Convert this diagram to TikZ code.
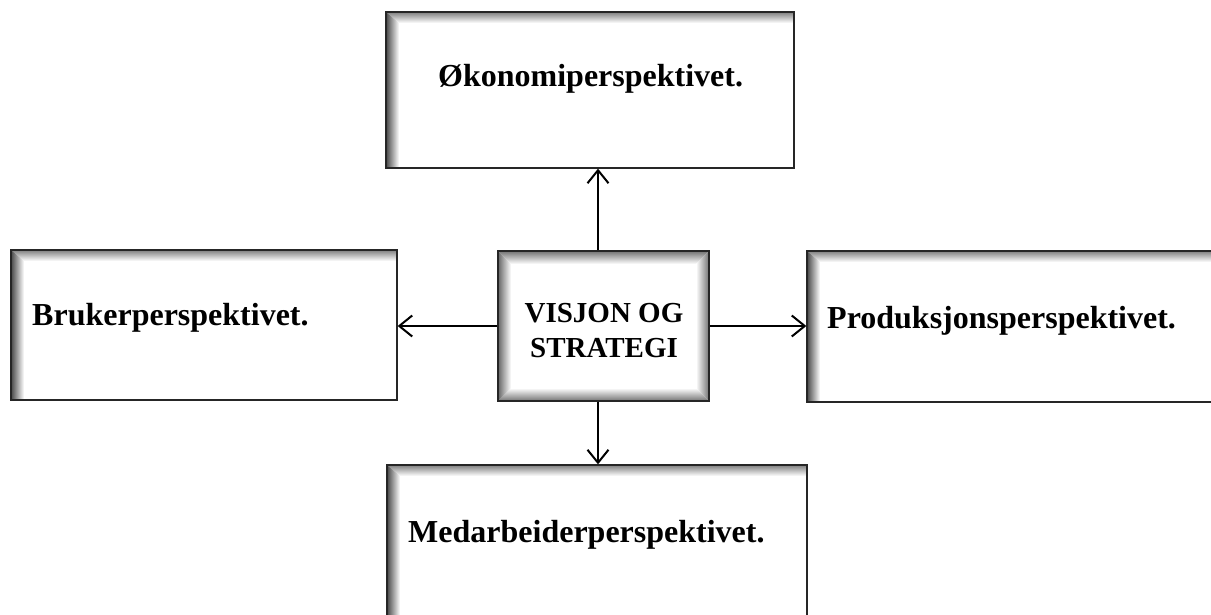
\documentclass[tikz,border=0pt]{standalone}
\usepackage{fontspec}
\setmainfont{Liberation Serif}
\usetikzlibrary{arrows.meta}
\begin{document}
\begin{tikzpicture}[x=1pt,y=-1pt,
  box/.style={draw=black!85, line width=1.3pt, rectangle, inner sep=0pt, fill=white},
  shadowLT/.style={path picture={
    \coordinate (nw) at (path picture bounding box.north west);
    \coordinate (ne) at (path picture bounding box.north east);
    \coordinate (sw) at (path picture bounding box.south west);
    \shade[top color=black!50, bottom color=white]
      (nw) -- (ne) -- ([yshift=-11pt]ne) -- ([shift={(13pt,-11pt)}]nw) -- cycle;
    \shade[left color=black!72, right color=white]
      (nw) -- (sw) -- ([xshift=13pt]sw) -- ([shift={(13pt,-11pt)}]nw) -- cycle;
  }},
  shadowAll/.style={path picture={
    \coordinate (nw) at (path picture bounding box.north west);
    \coordinate (ne) at (path picture bounding box.north east);
    \coordinate (sw) at (path picture bounding box.south west);
    \coordinate (se) at (path picture bounding box.south east);
    \shade[top color=black!55, bottom color=white]
      (nw) -- (ne) -- ([shift={(-13pt,-13pt)}]ne) -- ([shift={(13pt,-13pt)}]nw) -- cycle;
    \shade[bottom color=black!55, top color=white]
      (sw) -- (se) -- ([shift={(-13pt,13pt)}]se) -- ([shift={(13pt,13pt)}]sw) -- cycle;
    \shade[left color=black!60, right color=white]
      (nw) -- (sw) -- ([shift={(13pt,13pt)}]sw) -- ([shift={(13pt,-13pt)}]nw) -- cycle;
    \shade[right color=black!55, left color=white]
      (ne) -- (se) -- ([shift={(-13pt,13pt)}]se) -- ([shift={(-13pt,-13pt)}]ne) -- cycle;
  }},
  lbl/.style={anchor=base west, inner sep=0pt, font=\fontsize{32}{38}\selectfont\bfseries},
  clbl/.style={anchor=base, inner sep=0pt, font=\fontsize{29}{35}\selectfont\bfseries},
  conn/.style={line width=2pt, -{Straight Barb[length=13pt,width=21pt,line width=2pt]}},
]
\useasboundingbox (0,0) rectangle (1211,615);

% boxes (x: left-right, y: top-bottom in pixels)
\node[box, shadowLT, minimum width=408pt, minimum height=156pt] (top) at (590,90) {};
\node[box, shadowLT, minimum width=386pt, minimum height=150pt] (left) at (204,325) {};
\node[box, shadowLT, minimum width=415pt, minimum height=151pt] (right) at (1014.5,326.5) {};
\node[box, shadowLT, minimum width=420pt, minimum height=170pt] (bottom) at (597,550) {};
\node[box, shadowAll, minimum width=211pt, minimum height=150pt] (c) at (603.5,326) {};

% labels
\node[lbl] (ttop) at (438,87) {Økonomiperspektivet.};
\node[lbl] (tleft) at (32,325) {Brukerperspektivet.};
\node[lbl] (tright) at (827,328) {Produksjonsperspektivet.};
\node[lbl] (tbottom) at (408,542) {Medarbeiderperspektivet.};
\node[clbl] (c1) at (604,322) {VISJON OG};
\node[clbl] (c2) at (604,357) {STRATEGI};

% connectors
\draw[conn] ([xshift=-5.5pt]c.north) -- ([xshift=-5.5pt]c.north |- top.south);
\draw[conn] ([xshift=-5.5pt]c.south) -- ([xshift=-5.5pt]c.south |- bottom.north);
\draw[conn] (c.west) -- (c.west -| left.east);
\draw[conn] (c.east) -- (c.east -| right.west);
\end{tikzpicture}
\end{document}
